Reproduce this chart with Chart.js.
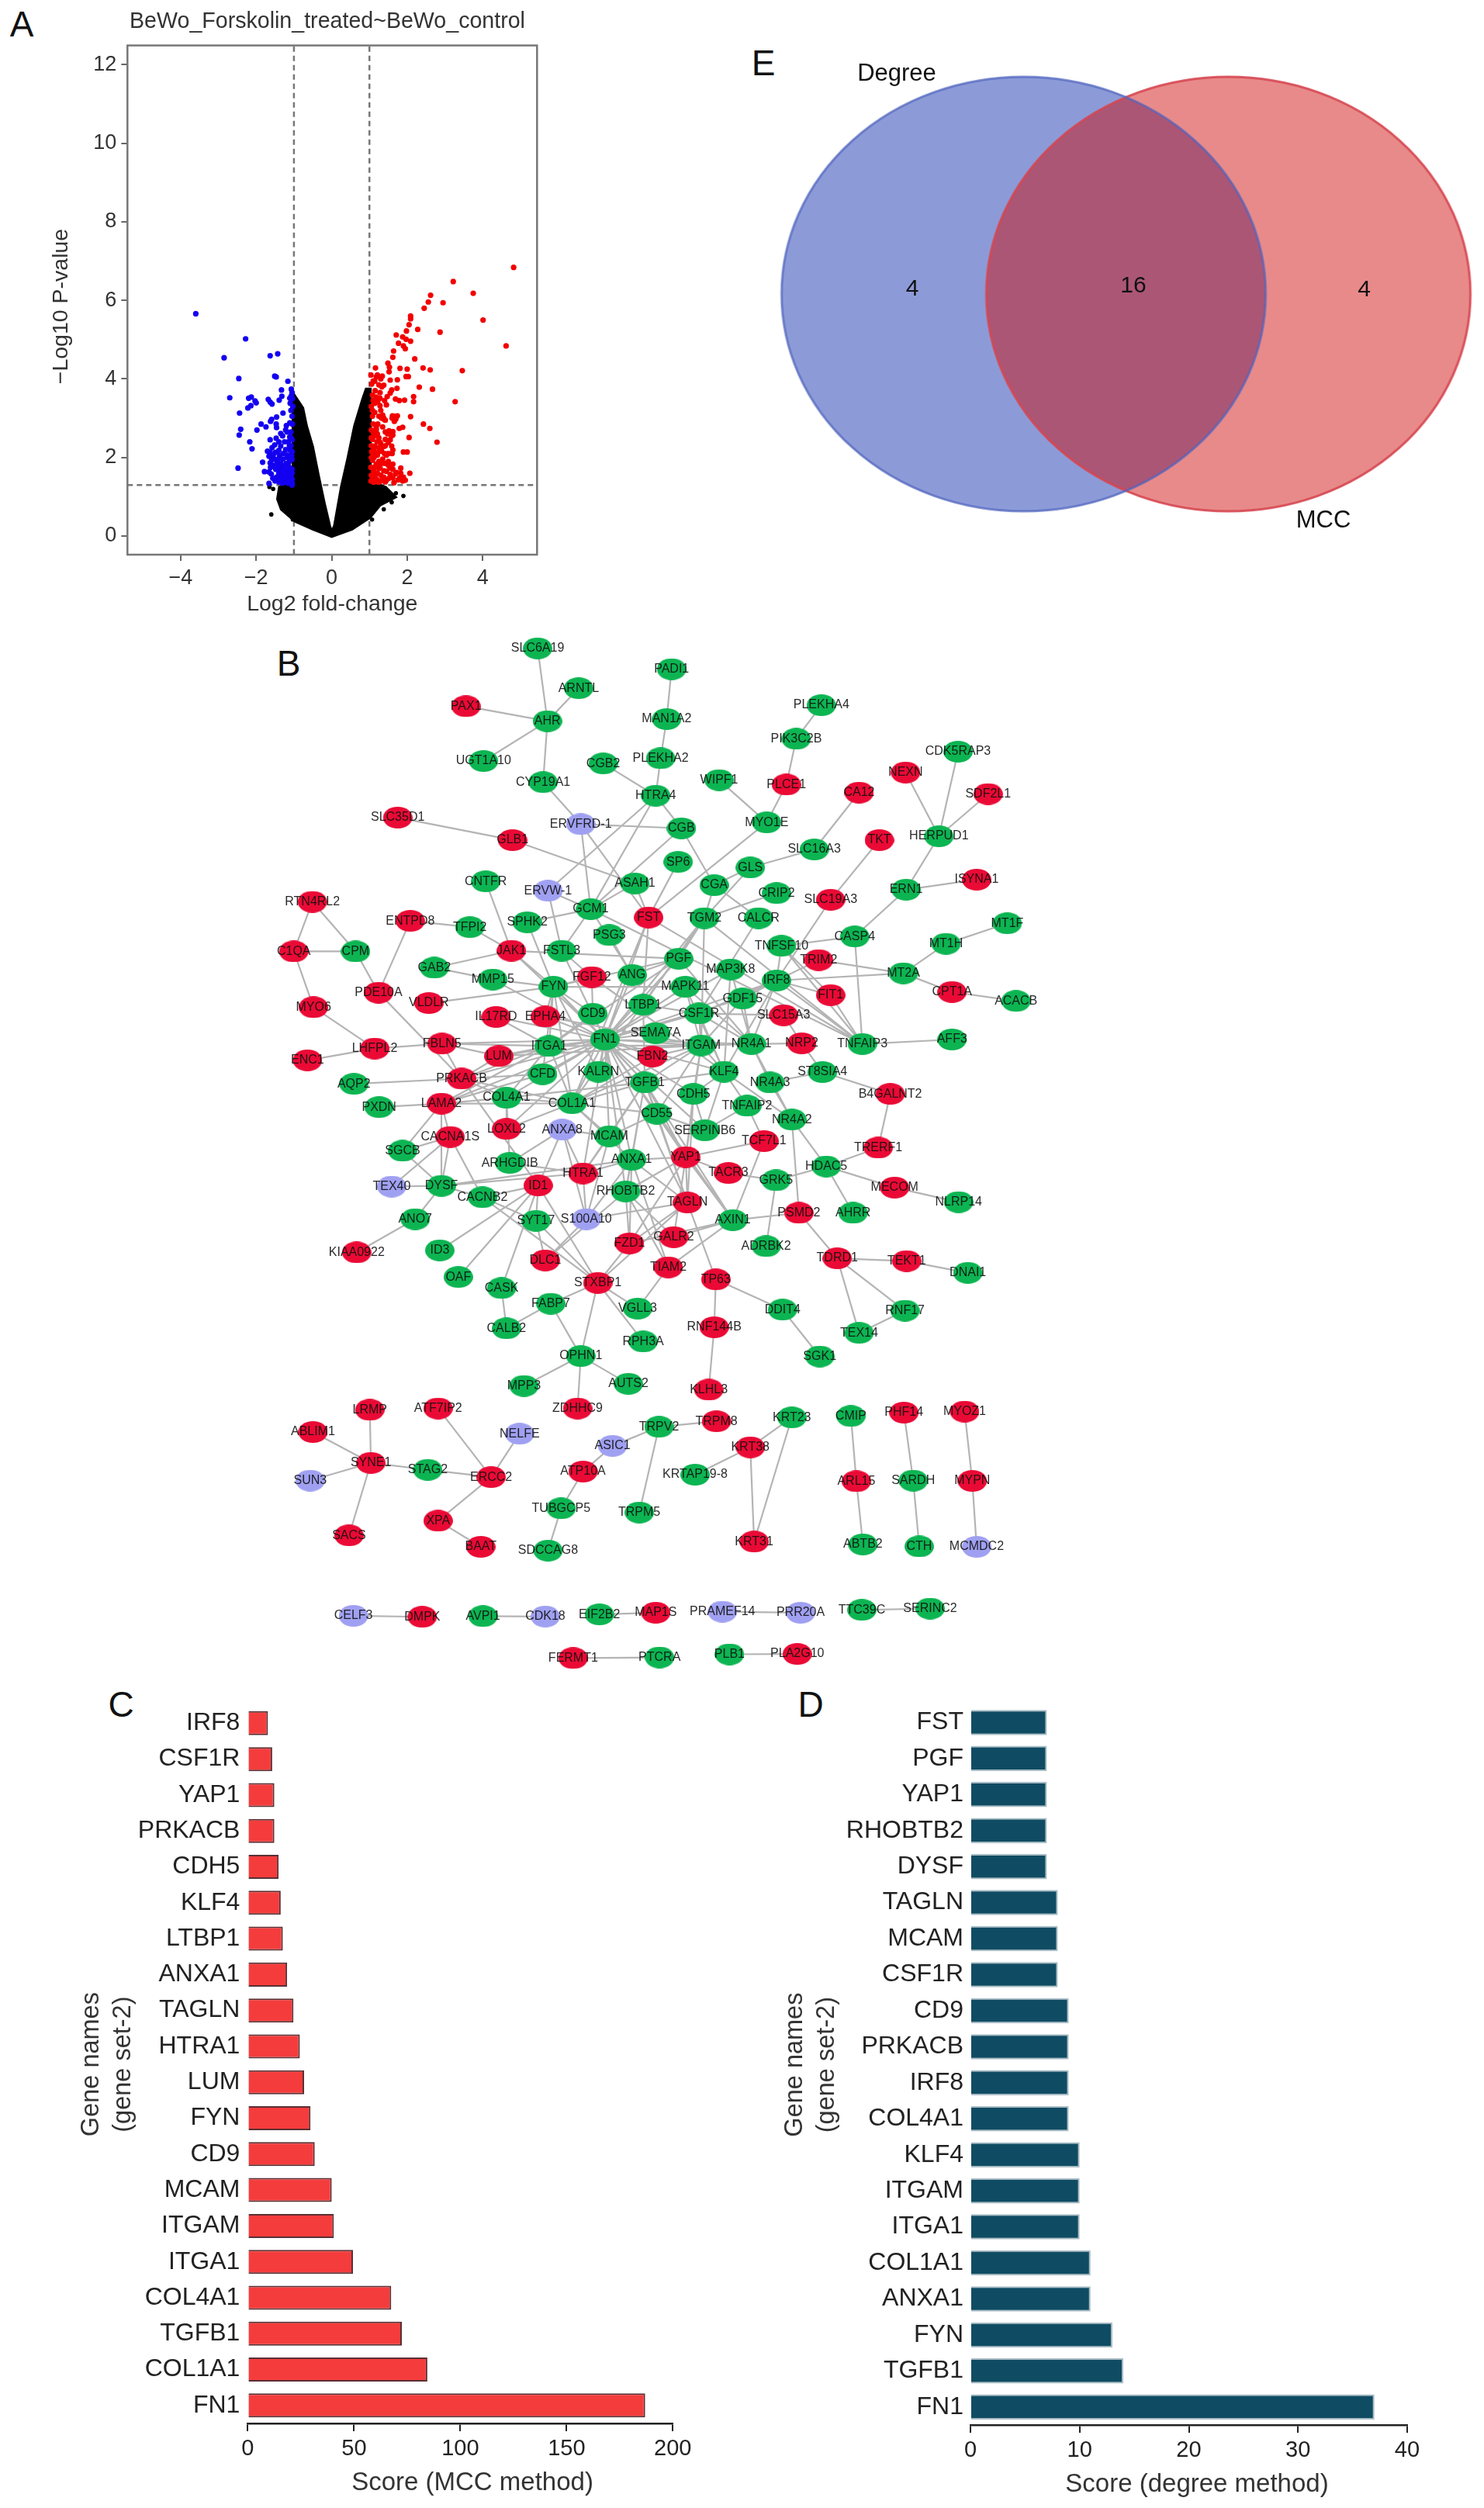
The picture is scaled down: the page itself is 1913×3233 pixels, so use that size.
<!DOCTYPE html>
<html>
<head>
<meta charset="utf-8">
<script src="https://cdn.jsdelivr.net/npm/chart.js@4"></script>
<style>
    html, body { margin: 0; background: #fff; }
    body { position: relative; width: 1913px; height: 3233px; overflow: hidden; font-family: "Liberation Sans", sans-serif; }
    canvas { position: absolute; filter: blur(0.5px); }
    #network { filter: blur(0.7px); }
    .tag { position: absolute; font-size: 46px; color: #111; transform: translate(-50%, -50%); }
</style>
</head>
<body>
<div class="tag" style="left:28px;top:31px">A</div>
<div class="tag" style="left:372px;top:855px">B</div>
<div class="tag" style="left:156px;top:2197px">C</div>
<div class="tag" style="left:1045px;top:2197px">D</div>
<div class="tag" style="left:984px;top:81px">E</div>

<canvas id="volcano" width="844" height="800" style="left:0;top:0"></canvas>
<canvas id="venn" width="953" height="660" style="left:960px;top:50px"></canvas>
<canvas id="network" width="1100" height="1400" style="left:292px;top:795px"></canvas>
<canvas id="mcc" width="832" height="1056" style="left:98px;top:2177px"></canvas>
<canvas id="degree" width="908" height="1056" style="left:1005px;top:2177px"></canvas>

<script>
// panel A - volcano plot
var upX = [4.82,3.22,3.75,2.62,2.56,2.95,2.45,2.09,2.09,4.01,2.05,2.28,2.87,1.98,1.71,1.88,1.97,2.09,1.77,1.90,1.95,4.62,1.64,1.62,2.20,1.49,1.53,1.16,1.81,2.00,2.42,2.61,3.46,1.52,1.04,1.21,1.34,1.97,2.03,1.55,1.74,1.14,1.06,1.38,1.33,1.73,2.32,2.67,1.59,1.55,1.08,1.18,1.28,1.47,2.17,1.69,1.79,1.93,2.17,3.27,1.14,1.28,1.45,1.14,1.08,1.35,1.61,1.74,2.09,1.32,1.42,1.66,2.43,1.35,1.79,1.88,2.60,1.18,1.11,1.21,1.55,1.62,2.05,1.08,1.28,1.42,2.79,1.14,1.59,1.62,1.32,1.90,2.00,1.08,1.21,1.45,1.35,1.08,1.62,1.18,1.28,1.83,1.55,1.11,1.38,1.21,2.07,1.83,1.55,1.69,1.08,1.38,1.90,1.21,1.52,1.76,1.11,1.31,1.05,1.05,1.04,1.04,1.15,1.25,1.15,1.25,1.42,1.50,1.40,1.30,1.50,1.45,1.20,1.05,1.22,1.42,1.55,1.05,1.12,
    1.10,1.22,1.30,1.37,1.39,1.60,1.70,1.67,1.18,1.14,1.25,1.48,1.58,1.52,1.62,1.30,1.38,1.50,1.12,1.22,1.40,1.60,1.12,1.32,1.50,1.62,1.25,1.15,1.35,1.45,1.62,1.72,1.80,1.95,1.88,1.25,1.15,1.42,1.65,1.05,1.06,1.05,1.10,1.25,1.08,1.15,1.28,1.40,1.10,1.25,1.30,1.18];
var upY = [6.84,6.48,6.18,6.13,5.96,5.94,5.80,5.60,5.53,5.50,5.38,5.26,5.19,5.22,5.12,5.07,5.01,4.96,4.91,4.84,4.77,4.84,4.71,4.55,4.51,4.40,4.30,4.28,4.27,4.25,4.28,4.23,4.21,4.18,4.10,4.10,4.07,4.06,4.06,3.97,3.98,3.94,3.87,3.84,3.80,3.76,3.79,3.74,3.72,3.64,3.59,3.54,3.51,3.55,3.55,3.49,3.45,3.46,3.42,3.42,3.38,3.32,3.34,3.15,3.05,3.08,3.06,3.06,3.04,3.00,2.95,2.92,2.85,2.78,2.74,2.77,2.74,2.75,2.62,2.60,2.62,2.57,2.51,2.46,2.39,2.46,2.39,2.29,2.29,2.19,2.16,2.14,2.14,2.13,2.06,2.06,1.96,1.93,1.83,1.83,1.76,1.73,1.73,1.66,1.66,1.60,1.60,1.60,1.57,1.58,1.50,1.50,1.50,1.43,1.47,1.43,1.37,1.40,2.30,2.70,1.75,1.40,2.05,1.90,1.60,2.25,2.30,2.10,1.85,1.55,1.90,1.65,2.40,3.30,2.85,2.65,2.45,1.55,1.75,
    3.45,3.42,3.20,3.02,2.97,3.00,2.98,3.05,2.70,2.55,2.50,2.60,2.55,2.68,2.66,2.35,2.28,2.38,2.20,2.12,2.10,2.10,2.00,1.86,1.80,1.70,1.72,1.50,1.45,1.42,1.48,1.62,1.48,1.42,1.40,1.37,1.40,1.38,1.36,2.00,2.15,2.50,2.85,3.05,3.20,3.70,3.65,3.45,3.95,3.85,4.00,4.05];
var downX = [-3.60,-2.28,-2.85,-1.63,-1.43,-2.46,-1.51,-1.47,-1.16,-1.07,-1.33,-2.70,-1.32,-1.39,-1.07,-1.11,-2.20,-2.13,-2.03,-2.00,-1.68,-1.63,-1.58,-2.14,-2.22,-1.10,-1.29,-2.44,-1.46,-1.59,-1.62,-1.87,-1.74,-1.47,-1.46,-2.41,-1.98,-1.20,-1.11,-1.35,-2.45,-1.63,-1.47,-1.18,-1.11,-1.05,-2.17,-1.51,-1.35,-2.11,-1.70,-1.63,-1.49,-1.66,-1.59,-1.83,-1.11,-1.18,-1.08,-1.42,-1.35,-1.29,-2.48,-1.63,-1.32,-1.25,-1.18,-1.78,-1.66,-1.35,-1.22,-1.11,-1.46,-1.25,-1.15,-1.56,-1.08,-1.66,-1.35,-1.18,-1.08,-1.08,-1.12,-1.05,-1.22,-1.05,-1.12,-1.20,-1.05,-1.15,-1.28,-1.05,-1.12,-1.28,-1.40,-1.05,-1.20,-1.32,-1.05,-1.12,-1.25,-1.42,-1.50,-1.55,-1.40,-1.25,-1.08,-1.04,-1.05,-1.03,-1.08,-1.04,
    -1.30,-1.22,-1.40,-1.15,-1.08,-1.55,-1.48,-1.60,-1.50,-1.40,-1.30,-1.45,-1.38,-1.28,-1.18,-1.06,-1.10,-1.20,-1.35,-1.10,-1.15,-1.05,-1.25,-1.38,-1.58,-1.62,-1.05];
var downY = [5.66,5.02,4.54,4.59,4.64,4.01,4.07,4.05,3.94,3.74,3.72,3.52,3.56,3.46,3.57,3.51,3.51,3.54,3.44,3.39,3.48,3.41,3.36,3.32,3.26,3.38,3.13,3.13,3.03,2.97,2.92,2.85,2.78,2.85,2.76,2.72,2.70,2.81,2.88,2.61,2.57,2.45,2.49,2.65,2.52,2.45,2.40,2.32,2.29,2.22,2.16,2.13,2.13,2.03,1.94,1.88,2.19,2.06,2.06,1.96,1.86,1.96,1.73,1.86,1.76,1.80,1.67,1.64,1.63,1.63,1.60,1.73,1.50,1.50,1.47,1.47,1.53,1.34,1.37,1.37,1.34,2.30,2.30,2.15,2.20,1.95,1.90,1.85,1.70,1.80,1.70,1.60,1.60,1.55,1.60,1.45,1.45,1.45,1.35,1.40,1.38,1.75,1.95,2.05,2.18,2.40,2.65,2.85,3.05,3.30,3.20,3.50,
    2.55,2.70,2.40,2.40,2.50,1.80,1.70,1.58,1.40,1.38,1.35,1.85,2.05,2.10,2.00,2.05,1.70,1.55,1.50,1.55,1.35,1.30,1.65,1.72,2.25,1.75,3.65];
// the black mass has too many overlapping genes to read one by one, so its outline is read instead
var cloudX = [-1.03,-0.76,-0.66,-0.50,-0.35,-0.19,-0.05,0.00,0.07,0.25,0.42,0.60,0.81,0.91,1.03,1.03,1.28,1.43,1.70,1.28,1.02,0.54,0.00,-0.50,-0.97,-1.34,-1.44,-1.39,-1.03,-1.03];
var cloudY = [3.65,3.26,2.80,2.28,1.56,0.84,0.27,0.11,0.27,1.25,1.97,2.80,3.47,3.75,3.75,1.30,1.30,1.25,0.99,0.78,0.47,0.17,-0.02,0.17,0.37,0.68,0.94,1.25,1.35,3.65];
var strayX = [-1.60,-1.65,-1.55,1.90,1.70,1.59,1.38,1.54,1.28,1.43,1.07,-1.03];
var strayY = [0.55,1.25,1.20,1.02,1.09,0.86,0.68,0.99,1.09,1.20,0.42,0.42];
var foldCut = [-1, 1];
var pCut = 1.3;

// panel C
var mccGenes = ['IRF8','CSF1R','YAP1','PRKACB','CDH5','KLF4','LTBP1','ANXA1','TAGLN','HTRA1','LUM','FYN','CD9','MCAM','ITGAM','ITGA1','COL4A1','TGFB1','COL1A1','FN1'];
var mccScores = [9.5,11.5,12.5,12.5,14.5,15.5,16.5,18.5,21.5,24.5,26.5,29.5,31.5,39.5,40.5,49.5,67.5,72.5,84.5,187];

// panel D
var degreeGenes = ['FST','PGF','YAP1','RHOBTB2','DYSF','TAGLN','MCAM','CSF1R','CD9','PRKACB','IRF8','COL4A1','KLF4','ITGAM','ITGA1','COL1A1','ANXA1','FYN','TGFB1','FN1'];
var degreeScores = [7,7,7,7,7,8,8,8,9,9,9,9,10,10,10,11,11,13,14,37];

// panel E
var vennCounts = ['4', '16', '4'];
var vennSets = ['Degree', 'MCC'];

// panel B - node layout, in layout units
var greenNames = ['SLC6A19','PADI1','ARNTL','AHR','MAN1A2','PLEKHA4','PIK3C2B','CDK5RAP3','UGT1A10','CGB2','PLEKHA2','CYP19A1','WIPF1','HTRA4','CGB','MYO1E','HERPUD1','SLC16A3','SP6','GLS','CNTFR','ASAH1','CGA','CRIP2','ERN1','GCM1','TGM2','CALCR','SPHK2','TFPI2','PSG3','CASP4','MT1F','TNFSF10','MT1H','CPM','FSTL3','PGF','GAB2','MAP3K8','MT2A','ANG','MMP15','IRF8','FYN','MAPK11','GDF15','ACACB','LTBP1','CD9','CSF1R','SEMA7A','FN1','NR4A1','ITGAM','TNFAIP3','AFF3','ITGA1','KLF4','KALRN','ST8SIA4','CFD','TGFB1','NR4A3','AQP2','CDH5','COL4A1','COL1A1','TNFAIP2','PXDN','CD55','NR4A2','SERPINB6','MCAM','SGCB','ANXA1','ARHGDIB','HDAC5','GRK5','DYSF','RHOBTB2','CACNB2','NLRP14','AHRR','ANO7','SYT17','AXIN1','ADRBK2','ID3','DNAI1','OAF','CASK','VGLL3','FABP7','DDIT4','RNF17','CALB2','TEX14','RPH3A','OPHN1','SGK1','MPP3','AUTS2','CMIP','KRT23','TRPV2','STAG2','KRTAP19-8','SARDH','TUBGCP5','TRPM5','ABTB2','CTH','SDCCAG8','AVPI1','EIF2B2','TTC39C','SERINC2','PTCRA','PLB1'];
var greenX = [562,807,637,580,798,1081,1035,1331,463,682,787,572,894,778,825,981,1296,1068,819,951,467,740,885,999,1236,659,867,966,543,438,693,1142,1421,1008,1309,229,606,820,373,915,1231,735,480,999,591,832,937,1437,755,663,857,778,685,953,861,1156,1320,583,903,673,1083,571,758,987,226,847,505,625,945,272,780,1027,868,693,315,734,511,1090,998,386,723,461,1332,1139,338,559,919,980,383,1349,417,496,745,586,1010,1234,505,1150,755,641,1078,537,728,1135,1027,784,361,850,1249,605,748,1157,1260,581,462,675,1155,1280,785,913];
var greenY = [80,140,195,290,284,244,341,378,405,412,397,466,460,505,599,582,622,660,696,712,752,758,763,786,776,832,858,858,870,884,907,911,873,938,932,954,952,975,1001,1006,1017,1022,1035,1038,1056,1056,1090,1097,1108,1134,1133,1190,1208,1221,1225,1221,1208,1227,1301,1301,1302,1308,1332,1332,1336,1365,1376,1392,1399,1403,1422,1439,1470,1487,1529,1555,1564,1574,1614,1630,1646,1663,1677,1708,1726,1731,1729,1804,1816,1881,1893,1925,1984,1970,1987,1990,2041,2054,2079,2121,2122,2207,2201,2294,2298,2325,2449,2463,2480,2560,2572,2664,2670,2682,2871,2866,2853,2849,2990,2981];
var redNames = ['PAX1','NEXN','PLCE1','CA12','SDF2L1','SLC35D1','GLB1','TKT','ISYNA1','SLC19A3','RTN4RL2','FST','ENTPD8','C1QA','JAK1','TRIM2','FGF12','CPT1A','PDE10A','FIT1','VLDLR','MYO6','SLC15A3','IL17RD','EPHA4','NRP2','LHFPL2','FBLN5','FBN2','LUM','ENC1','PRKACB','B4GALNT2','LAMA2','LOXL2','CACNA1S','TCF7L1','TRERF1','YAP1','HTRA1','TACR3','ID1','MECOM','TAGLN','PSMD2','GALR2','FZD1','KIAA0922','DLC1','TDRD1','TEKT1','TIAM2','TP63','STXBP1','RNF144B','KLHL3','LRMP','ATF7IP2','ZDHHC9','PHF14','MYOZ1','TRPM8','ABLIM1','KRT38','SYNE1','ATP10A','ERCC2','ARL15','MYPN','XPA','SACS','BAAT','KRT31','DMPK','MAP1S','FERMT1','PLA2G10'];
var redX = [431,1235,1017,1150,1386,306,516,1187,1365,1098,150,765,329,116,514,1076,661,1320,271,1098,363,152,1012,486,576,1045,264,387,772,491,141,423,1207,386,505,402,976,1185,833,645,911,563,1215,836,1040,811,730,231,576,1110,1237,801,888,672,885,875,255,380,635,1232,1343,889,151,951,257,645,477,1145,1357,380,217,458,958,351,778,627,1037];
var redY = [247,438,473,496,500,568,633,633,747,805,811,856,866,954,952,979,1028,1071,1073,1080,1103,1115,1138,1143,1142,1219,1234,1220,1257,1256,1268,1321,1365,1393,1466,1489,1501,1520,1547,1594,1593,1629,1635,1678,1708,1778,1796,1822,1845,1839,1847,1865,1900,1910,2038,2218,2276,2272,2272,2284,2281,2309,2340,2384,2429,2454,2470,2482,2481,2596,2638,2671,2656,2873,2861,2992,2980];
var blueNames = ['ERVFRD-1','ERVW-1','ANXA8','TEX40','S100A10','NELFE','ASIC1','SUN3','MCMDC2','CELF3','CDK18','PRAMEF14','PRR20A'];
var blueX = [641,581,607,295,651,529,699,146,1365,225,576,900,1043];
var blueY = [587,779,1468,1632,1726,2345,2380,2480,2671,2870,2872,2858,2861];

var edges = [
    ['SLC6A19','AHR'],['ARNTL','AHR'],['PAX1','AHR'],['AHR','UGT1A10'],['AHR','CYP19A1'],['PADI1','MAN1A2'],['MAN1A2','PLEKHA2'],['PLEKHA2','HTRA4'],['CGB2','HTRA4'],['PLEKHA4','PIK3C2B'],['PIK3C2B','PLCE1'],['PLCE1','MYO1E'],['WIPF1','MYO1E'],
    ['CYP19A1','ERVFRD-1'],['ERVFRD-1','CGB'],['ERVFRD-1','GCM1'],['ERVFRD-1','FST'],['HTRA4','CGB'],['HTRA4','ERVW-1'],['HTRA4','GCM1'],['SLC35D1','GLB1'],['GLB1','ASAH1'],['ASAH1','GCM1'],['ASAH1','FST'],['CGB','GCM1'],['CGB','CGA'],['MYO1E','FST'],['SP6','FST'],
    ['CA12','SLC16A3'],['SLC16A3','GLS'],['GLS','CGA'],['GLS','TGM2'],['CGA','TGM2'],['CGA','CALCR'],['CRIP2','TGM2'],['TKT','SLC19A3'],['SLC19A3','IRF8'],['NEXN','HERPUD1'],['CDK5RAP3','HERPUD1'],['SDF2L1','HERPUD1'],['HERPUD1','ERN1'],['ISYNA1','ERN1'],['ERN1','CASP4'],['CASP4','TNFSF10'],['CASP4','TNFAIP3'],['MT1F','MT1H'],['MT1H','MT2A'],['MT2A','TRIM2'],['MT2A','IRF8'],['MT2A','CPT1A'],['CPT1A','ACACB'],['TNFAIP3','AFF3'],
    ['RTN4RL2','C1QA'],['RTN4RL2','CPM'],['C1QA','CPM'],['C1QA','MYO6'],['CPM','PDE10A'],['ENTPD8','TFPI2'],['ENTPD8','PDE10A'],['TFPI2','JAK1'],['CNTFR','JAK1'],['ERVW-1','GCM1'],['ERVW-1','FSTL3'],['SPHK2','GCM1'],['SPHK2','FYN'],['GCM1','FSTL3'],['GCM1','ANG'],['GCM1','TNFAIP3'],['PSG3','ANG'],
    ['TNFSF10','IRF8'],['TNFSF10','FIT1'],['TNFSF10','TNFAIP3'],['TRIM2','IRF8'],['IRF8','FIT1'],['FIT1','TNFAIP3'],['IRF8','TNFAIP3'],['TGM2','TNFAIP3'],['FST','TNFAIP3'],['CALCR','CSF1R'],['FSTL3','FN1'],['JAK1','FYN'],['JAK1','GAB2'],['GAB2','MMP15'],['MMP15','FYN'],['MMP15','FN1'],['JAK1','FN1'],['JAK1','PGF'],
    ['FYN','VLDLR'],['FYN','PGF'],['FYN','FN1'],['FYN','CD9'],['FYN','EPHA4'],['FYN','ITGA1'],['FYN','MAPK11'],['FYN','KALRN'],['FYN','COL1A1'],['FYN','TGFB1'],['FYN','CFD'],
    ['PDE10A','PRKACB'],['MYO6','LHFPL2'],['LHFPL2','ENC1'],['LHFPL2','FBLN5'],['FBLN5','ITGA1'],['FBLN5','FN1'],['FBLN5','LUM'],['IL17RD','ITGA1'],['IL17RD','FN1'],['EPHA4','FN1'],['EPHA4','ITGAM'],
    ['PGF','FN1'],['PGF','ITGA1'],['PGF','ANG'],['PGF','NR4A1'],['PGF','TGM2'],['FST','FN1'],['FST','LTBP1'],['FST','COL1A1'],['ANG','FN1'],['FGF12','FYN'],['FGF12','CD9'],['FGF12','KLF4'],['FGF12','FSTL3'],['TGM2','FN1'],['TGM2','ITGAM'],['TGM2','COL1A1'],['TGM2','LTBP1'],['MAP3K8','NR4A1'],['MAP3K8','KLF4'],['MAP3K8','FN1'],['MAPK11','FN1'],['MAPK11','KLF4'],['MAPK11','NR4A1'],['MAPK11','ITGAM'],
    ['IRF8','CSF1R'],['IRF8','NR4A1'],['IRF8','FN1'],['IRF8','KLF4'],['IRF8','GDF15'],['GDF15','FN1'],['GDF15','NR4A1'],['GDF15','ITGAM'],['CSF1R','SLC15A3'],['CSF1R','ITGAM'],['CSF1R','FN1'],['CSF1R','NR4A1'],['CSF1R','LTBP1'],['CSF1R','KLF4'],['SLC15A3','NRP2'],['NR4A1','NRP2'],['NR4A1','NR4A3'],['NR4A3','NR4A2'],['NR4A1','NR4A2'],['NR4A1','ITGAM'],['NR4A1','FN1'],['NRP2','ST8SIA4'],['ST8SIA4','NR4A3'],['ST8SIA4','B4GALNT2'],
    ['KLF4','NR4A2'],['KLF4','TNFAIP2'],['KLF4','CDH5'],['KLF4','SERPINB6'],['KLF4','FN1'],['KLF4','ITGAM'],['KLF4','TGFB1'],
    ['FN1','ITGA1'],['FN1','ITGAM'],['FN1','CD9'],['FN1','LTBP1'],['FN1','SEMA7A'],['FN1','FBN2'],['FN1','LUM'],['FN1','CFD'],['FN1','KALRN'],['FN1','PRKACB'],['FN1','TGFB1'],['FN1','COL1A1'],['FN1','COL4A1'],['FN1','CD55'],['FN1','CDH5'],['FN1','MCAM'],['FN1','ANXA1'],['FN1','LAMA2'],['FN1','YAP1'],['FN1','HTRA1'],['FN1','LOXL2'],['FN1','RHOBTB2'],['FN1','TAGLN'],['FN1','AXIN1'],['FN1','SERPINB6'],
    ['ITGA1','COL1A1'],['ITGA1','COL4A1'],['ITGA1','LUM'],['ITGA1','PRKACB'],['ITGA1','CD9'],['ITGA1','LAMA2'],['ITGAM','FBN2'],['ITGAM','TGFB1'],['ITGAM','CD55'],['ITGAM','COL1A1'],['ITGAM','LUM'],['ITGAM','CDH5'],['ITGAM','YAP1'],['ITGAM','ITGA1'],
    ['AQP2','PRKACB'],['PRKACB','LUM'],['PRKACB','CFD'],['PRKACB','COL4A1'],['PRKACB','COL1A1'],['PRKACB','ID1'],['PRKACB','FBLN5'],['PXDN','LAMA2'],['LAMA2','COL4A1'],['LAMA2','COL1A1'],['LAMA2','SGCB'],['LAMA2','DYSF'],['LAMA2','CACNA1S'],['LAMA2','CFD'],
    ['COL4A1','COL1A1'],['COL4A1','LOXL2'],['COL4A1','TGFB1'],['COL4A1','ARHGDIB'],['COL1A1','TGFB1'],['COL1A1','LOXL2'],['COL1A1','MCAM'],['COL1A1','ANXA1'],['COL1A1','CD55'],['COL1A1','FBN2'],['TGFB1','CD55'],['TGFB1','YAP1'],['TGFB1','TAGLN'],['TGFB1','HTRA1'],['TGFB1','ANXA1'],['TGFB1','MCAM'],['TGFB1','AXIN1'],['TGFB1','LTBP1'],['TGFB1','RHOBTB2'],
    ['CD55','YAP1'],['CD55','SERPINB6'],['CD55','TAGLN'],['CD55','MCAM'],['CD55','AXIN1'],['CDH5','YAP1'],['CDH5','SERPINB6'],['CDH5','TAGLN'],['TNFAIP2','TCF7L1'],['TNFAIP2','SERPINB6'],['NR4A2','HDAC5'],['NR4A2','PSMD2'],
    ['YAP1','TCF7L1'],['YAP1','ANXA1'],['YAP1','TACR3'],['YAP1','TAGLN'],['YAP1','AXIN1'],['YAP1','RHOBTB2'],['YAP1','FZD1'],['YAP1','GALR2'],['TCF7L1','AXIN1'],['TACR3','GRK5'],['GRK5','HDAC5'],['GRK5','ADRBK2'],['HDAC5','TRERF1'],['TRERF1','B4GALNT2'],['HDAC5','MECOM'],['MECOM','NLRP14'],['HDAC5','AHRR'],
    ['AXIN1','PSMD2'],['AXIN1','FZD1'],['AXIN1','TIAM2'],['AXIN1','GALR2'],['PSMD2','TDRD1'],['TDRD1','TEKT1'],['TEKT1','DNAI1'],['TDRD1','RNF17'],['TDRD1','TEX14'],['RNF17','TEX14'],
    ['ANXA1','HTRA1'],['ANXA1','RHOBTB2'],['ANXA1','S100A10'],['ANXA1','TAGLN'],['ANXA1','TIAM2'],['ANXA1','DYSF'],['ANXA1','FZD1'],['MCAM','S100A10'],['MCAM','ANXA8'],['MCAM','HTRA1'],['ANXA8','ARHGDIB'],['ANXA8','S100A10'],['ANXA8','HTRA1'],['ANXA8','ID1'],['HTRA1','DYSF'],['HTRA1','S100A10'],['HTRA1','ARHGDIB'],
    ['RHOBTB2','FZD1'],['RHOBTB2','DLC1'],['RHOBTB2','GALR2'],['RHOBTB2','TIAM2'],['TAGLN','S100A10'],['TAGLN','TP63'],['TAGLN','FZD1'],['TAGLN','STXBP1'],['S100A10','DLC1'],['ID1','SYT17'],['ID1','ID3'],['ID1','OAF'],['ID1','CACNB2'],['ID1','CASK'],['ID1','STXBP1'],
    ['CACNA1S','SGCB'],['CACNA1S','DYSF'],['CACNA1S','CACNB2'],['CACNA1S','TEX40'],['SGCB','DYSF'],['TEX40','DYSF'],['DYSF','CACNB2'],['DYSF','ANO7'],['ANO7','KIAA0922'],['CACNB2','SYT17'],['CACNB2','STXBP1'],['SYT17','STXBP1'],['SYT17','DLC1'],['FZD1','STXBP1'],['TIAM2','VGLL3'],['TP63','RNF144B'],['TP63','DDIT4'],
    ['STXBP1','FABP7'],['STXBP1','VGLL3'],['STXBP1','RPH3A'],['STXBP1','OPHN1'],['CASK','CALB2'],['FABP7','CALB2'],['FABP7','OPHN1'],['DDIT4','SGK1'],['RNF144B','KLHL3'],['OPHN1','MPP3'],['OPHN1','AUTS2'],['OPHN1','ZDHHC9'],
    ['LRMP','SYNE1'],['ABLIM1','SYNE1'],['SUN3','SYNE1'],['SYNE1','STAG2'],['SYNE1','SACS'],['STAG2','ERCC2'],['ATF7IP2','ERCC2'],['NELFE','ERCC2'],['ERCC2','XPA'],['XPA','BAAT'],['TRPV2','TRPM8'],['TRPV2','ASIC1'],['TRPV2','TRPM5'],['ASIC1','ATP10A'],['ATP10A','TUBGCP5'],['TUBGCP5','SDCCAG8'],['KRT23','KRT38'],['KRT23','KRT31'],['KRT38','KRTAP19-8'],['KRT38','KRT31'],
    ['CMIP','ARL15'],['ARL15','ABTB2'],['PHF14','SARDH'],['SARDH','CTH'],['MYOZ1','MYPN'],['MYPN','MCMDC2'],['CELF3','DMPK'],['AVPI1','CDK18'],['EIF2B2','MAP1S'],['PRAMEF14','PRR20A'],['TTC39C','SERINC2'],['FERMT1','PTCRA'],['PLB1','PLA2G10']
];

var FONT = '"Liberation Sans", sans-serif';
Chart.defaults.font.family = FONT;
Chart.defaults.animation = false;
Chart.defaults.responsive = false;
Chart.defaults.devicePixelRatio = 1;
Chart.defaults.plugins.legend.display = false;
Chart.defaults.plugins.tooltip.enabled = false;

var zip = function (xs, ys) {
    return xs.map(function (x, i) { return {x: x, y: ys[i]}; });
};

// text that Chart.js has no slot for, placed in canvas pixels
var textPlugin = function (items) {
    return {
        id: 'freeText',
        afterDraw: function (chart) {
            var ctx = chart.ctx;
            items.forEach(function (t) {
                ctx.save();
                ctx.translate(t.x, t.y);
                if (t.rot) ctx.rotate(t.rot);
                ctx.font = t.size + 'px ' + FONT;
                ctx.fillStyle = t.color || '#222';
                ctx.textAlign = 'center';
                ctx.textBaseline = 'middle';
                ctx.fillText(t.text, 0, 0);
                ctx.restore();
            });
        }
    };
};

var ellipseSprite = function (rx, ry, fill, stroke, lw) {
    var c = document.createElement('canvas');
    c.width = 2 * rx + 2 * lw;
    c.height = 2 * ry + 2 * lw;
    var g = c.getContext('2d');
    g.beginPath();
    g.ellipse(c.width / 2, c.height / 2, rx, ry, 0, 0, Math.PI * 2);
    if (fill) { g.fillStyle = fill; g.fill(); }
    if (stroke) { g.strokeStyle = stroke; g.lineWidth = lw; g.stroke(); }
    return c;
};

// ---- A
var boxBorder = {
    id: 'boxBorder',
    afterDatasetsDraw: function (chart) {
        var a = chart.chartArea, ctx = chart.ctx;
        ctx.save();
        ctx.strokeStyle = '#777';
        ctx.lineWidth = 2.5;
        ctx.strokeRect(a.left, a.top, a.right - a.left, a.bottom - a.top);
        ctx.restore();
    }
};
var minusTick = function (v) { return String(v).replace('-', '\u2212'); };
var cutLine = {type: 'scatter', showLine: true, pointRadius: 0, borderColor: '#777', borderWidth: 2.5, borderDash: [7, 5]};
new Chart(document.getElementById('volcano'), {
    type: 'scatter',
    data: {
        datasets: [
            {data: zip(upX, upY), backgroundColor: '#f20000', borderWidth: 0, pointRadius: 3.6},
            {data: zip(downX, downY), backgroundColor: '#1400f0', borderWidth: 0, pointRadius: 3.6},
            {data: zip(strayX, strayY), backgroundColor: '#000', borderWidth: 0, pointRadius: 2.8},
            {data: zip(cloudX, cloudY), showLine: true, fill: 'shape', backgroundColor: '#000', borderColor: '#000', borderWidth: 3, pointRadius: 0},
            Object.assign({data: [{x: foldCut[0], y: -0.47}, {x: foldCut[0], y: 12.49}]}, cutLine),
            Object.assign({data: [{x: foldCut[1], y: -0.47}, {x: foldCut[1], y: 12.49}]}, cutLine),
            Object.assign({data: [{x: -5.41, y: pCut}, {x: 5.44, y: pCut}]}, cutLine)
        ]
    },
    options: {
        layout: {padding: {top: 58.6, right: 151.7}},
        scales: {
            x: {
                min: -5.41, max: 5.44,
                afterFit: function (s) { s.height = 85; },
                border: {display: false},
                grid: {drawOnChartArea: false, color: '#666', lineWidth: 2, tickLength: 8},
                ticks: {stepSize: 2, includeBounds: false, autoSkip: false, maxRotation: 0, color: '#333', font: {size: 27}, padding: 6, callback: minusTick},
                title: {display: true, text: 'Log2 fold-change', color: '#333', font: {size: 28.5}, padding: {top: 0, bottom: 4}}
            },
            y: {
                min: -0.474, max: 12.49,
                afterFit: function (s) { s.width = 164.3; },
                border: {display: false},
                grid: {drawOnChartArea: false, color: '#666', lineWidth: 2, tickLength: 8},
                ticks: {stepSize: 2, includeBounds: false, color: '#333', font: {size: 27}, padding: 6}
            }
        }
    },
    plugins: [boxBorder, textPlugin([
        {text: 'BeWo_Forskolin_treated~BeWo_control', x: 422, y: 28, size: 28.6, color: '#333'},
        {text: '\u2212Log10 P-value', x: 79, y: 395, size: 28.5, rot: -Math.PI / 2, color: '#333'}
    ])]
});

// ---- E
var vRx = 312, vRy = 280;
new Chart(document.getElementById('venn'), {
    type: 'scatter',
    data: {
        datasets: [
            {data: [{x: 358.3, y: 329}], pointStyle: ellipseSprite(vRx, vRy, null, 'rgba(80,100,190,0.75)', 3)},
            {data: [{x: 625, y: 329}], pointStyle: ellipseSprite(vRx, vRy, 'rgba(207,11,11,0.48)', 'rgba(214,70,80,0.9)', 3)},
            {data: [{x: 358.3, y: 329}], pointStyle: ellipseSprite(vRx, vRy, '#8c9bd8', null, 3)}
        ]
    },
    options: {
        layout: {padding: 0},
        scales: {
            x: {display: false, min: 0, max: 953},
            y: {display: false, min: 0, max: 660, reverse: true}
        }
    },
    plugins: [textPlugin([
        {text: vennSets[0], x: 196, y: 45, size: 31, color: '#111'},
        {text: vennSets[1], x: 746, y: 621, size: 31, color: '#111'},
        {text: vennCounts[0], x: 216, y: 323, size: 30, color: '#111'},
        {text: vennCounts[1], x: 501, y: 319, size: 30, color: '#111'},
        {text: vennCounts[2], x: 798.5, y: 324, size: 30, color: '#111'}
    ])]
});

// ---- B
var nodeAt = {};
var addNodes = function (names, xs, ys) {
    names.forEach(function (n, i) { nodeAt[n] = {x: xs[i], y: ys[i]}; });
};
addNodes(greenNames, greenX, greenY);
addNodes(redNames, redX, redY);
addNodes(blueNames, blueX, blueY);
var edgeLine = [];
edges.forEach(function (e) {
    edgeLine.push(nodeAt[e[0]], nodeAt[e[1]], {x: null, y: null});
});
var nodeLabels = {
    id: 'nodeLabels',
    afterDatasetsDraw: function (chart) {
        var ctx = chart.ctx, sx = chart.scales.x, sy = chart.scales.y;
        ctx.save();
        ctx.font = '16px ' + FONT;
        ctx.fillStyle = 'rgba(15,15,15,0.9)';
        ctx.textAlign = 'center';
        ctx.textBaseline = 'middle';
        Object.keys(nodeAt).forEach(function (n) {
            ctx.fillText(n, sx.getPixelForValue(nodeAt[n].x), sy.getPixelForValue(nodeAt[n].y));
        });
        ctx.restore();
    }
};
new Chart(document.getElementById('network'), {
    type: 'scatter',
    data: {
        datasets: [
            {data: zip(greenX, greenY), pointStyle: ellipseSprite(19, 14, '#0cb552', null, 0)},
            {data: zip(redX, redY), pointStyle: ellipseSprite(19, 14, '#ea0a35', null, 0)},
            {data: zip(blueX, blueY), pointStyle: ellipseSprite(19, 14, '#a0a0f2', null, 0)},
            {data: edgeLine, showLine: true, spanGaps: false, pointRadius: 0, borderColor: '#b4b4b4', borderWidth: 2.2}
        ]
    },
    options: {
        layout: {padding: 0},
        scales: {
            x: {display: false, min: 0, max: 1546.7},
            y: {display: false, min: 0, max: 3109.6, reverse: true}
        }
    },
    plugins: [nodeLabels]
});

// ---- C, D
var barChart = function (id, genes, scores, cfg) {
    new Chart(document.getElementById(id), {
        type: 'bar',
        data: {
            labels: genes,
            datasets: [{
                data: scores,
                backgroundColor: cfg.fill,
                borderColor: cfg.edge,
                borderWidth: 2,
                categoryPercentage: cfg.thick,
                barPercentage: 1
            }]
        },
        options: {
            indexAxis: 'y',
            layout: {padding: {right: cfg.right}},
            scales: {
                x: {
                    min: 0, max: cfg.max,
                    afterFit: function (s) { s.height = cfg.axisH; },
                    border: {color: '#222', width: 2.5},
                    grid: {drawOnChartArea: false, color: '#222', lineWidth: 2, tickLength: 10},
                    ticks: {stepSize: cfg.step, autoSkip: false, maxRotation: 0, color: '#222', font: {size: 29}, padding: 6}
                },
                y: {
                    afterFit: function (s) { s.width = cfg.axisW; },
                    border: {display: false},
                    grid: {display: false},
                    ticks: {autoSkip: false, color: '#222', font: {size: 32}, padding: cfg.labelGap},
                    title: {display: true, text: ['Gene names', '(gene set-2)'], color: '#333', font: {size: 32.5, lineHeight: 1.26}, padding: 0}
                }
            }
        },
        plugins: [textPlugin([{text: cfg.xTitle, x: cfg.titleX, y: cfg.titleY, size: 33, color: '#333'}])]
    });
};
barChart('mcc', mccGenes, mccScores, {
    fill: '#f53c3c', edge: '#5a3034', thick: 0.67, right: 62.7, max: 200, step: 50,
    axisH: 109, axisW: 221.4, labelGap: 2, xTitle: 'Score (MCC method)', titleX: 511, titleY: 1024
});
barChart('degree', degreeGenes, degreeScores, {
    fill: '#0f4c63', edge: '#a9bcc4', thick: 0.7, right: 99, max: 40, step: 10,
    axisH: 107, axisW: 246, labelGap: 1, xTitle: 'Score (degree method)', titleX: 538, titleY: 1026
});
</script>
</body>
</html>
